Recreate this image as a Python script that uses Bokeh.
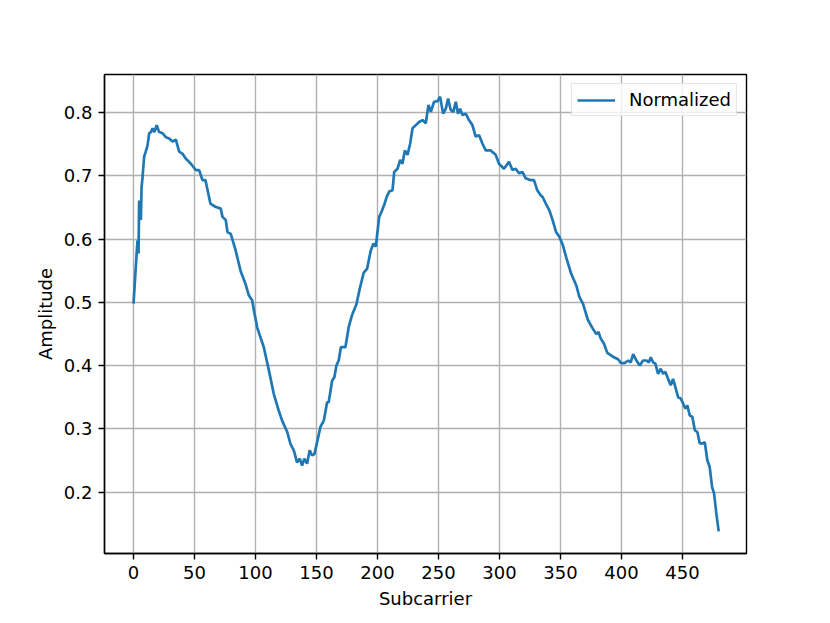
from bokeh.plotting import figure
from bokeh.models import Range1d, FixedTicker
from bokeh.embed import file_html
from bokeh.resources import INLINE

subcarrier = [
    0, 2.7, 3.3, 4.1, 4.6, 6.0, 6.6, 7.4, 8.7, 10, 11.5, 12.8, 14.2, 15.6, 17, 19, 21, 23.8,
    26.5, 29.2, 32, 34.7, 37.4, 40, 42.9, 47, 51, 53.8, 56.5, 59, 63, 67, 71.5, 72.9, 75.6,
    77, 79.7, 83.7, 87.7, 91.8, 94.5, 97.3, 99, 101.4, 104, 106.8, 111, 115, 119, 121.8,
    126, 128.7, 131.4, 134, 136.3, 138.2, 140, 142.3, 144.4, 146.4, 148.3, 150.5, 153.2,
    156, 158.7, 160, 162.8, 164.7, 166.3, 168.2, 170, 173.7, 176.4, 179, 182.7, 185.4,
    188.7, 191.5, 192.8, 194.5, 196.7, 198.6, 201.4, 203.3, 205.5, 207.6, 209.6, 212.3,
    213.7, 216.4, 218.6, 220.5, 222.4, 224.6, 226.8, 228.7, 231.4, 234.1, 236.9, 239.6,
    241.8, 243.7, 246.4, 249.2, 251.3, 253.8, 256, 257.9, 260, 262.2, 264.2, 266, 267.7,
    269.6, 272.3, 275, 277.8, 280.5, 283.3, 286, 288.7, 292.8, 296.9, 299.6, 303.7, 307.8,
    310.6, 313.3, 316, 318.8, 321.5, 325.6, 328.3, 331, 333.8, 335.5, 338.2, 341, 343.7,
    346.4, 349.2, 352, 354.7, 358.8, 362.9, 365.6, 368.4, 372.5, 376.6, 379.3, 381.2,
    382.9, 385.6, 388.4, 393, 397.2, 399.7, 402.7, 405.5, 407.6, 409.6, 412.3, 415, 417.7,
    420.5, 422.4, 424, 426, 427.8, 430, 432.2, 434.1, 436, 438.2, 440.4, 442.3, 444.2,
    446.4, 448.6, 450.5, 452.4, 454, 456, 458.1, 460.1, 462.2, 464.2, 466.9, 468.3, 470.4,
    472.3, 474.3, 475.9, 477.8, 479.7,
]
amplitude = [
    0.498, 0.582, 0.598, 0.577, 0.661, 0.630, 0.682, 0.698, 0.730, 0.738, 0.748, 0.767,
    0.769, 0.775, 0.769, 0.780, 0.769, 0.767, 0.761, 0.759, 0.754, 0.757, 0.738, 0.735,
    0.727, 0.719, 0.709, 0.709, 0.693, 0.693, 0.656, 0.651, 0.648, 0.635, 0.630, 0.611,
    0.608, 0.582, 0.550, 0.529, 0.511, 0.503, 0.484, 0.460, 0.445, 0.429, 0.392, 0.355,
    0.329, 0.313, 0.295, 0.276, 0.266, 0.247, 0.253, 0.242, 0.253, 0.245, 0.266, 0.258,
    0.260, 0.279, 0.303, 0.313, 0.342, 0.342, 0.376, 0.382, 0.400, 0.408, 0.429, 0.429,
    0.461, 0.479, 0.497, 0.521, 0.547, 0.553, 0.566, 0.582, 0.593, 0.588, 0.635, 0.643,
    0.654, 0.667, 0.675, 0.677, 0.706, 0.711, 0.725, 0.719, 0.740, 0.733, 0.751, 0.775,
    0.780, 0.785, 0.788, 0.783, 0.812, 0.801, 0.817, 0.818, 0.825, 0.798, 0.806, 0.822,
    0.804, 0.801, 0.817, 0.798, 0.806, 0.796, 0.798, 0.788, 0.780, 0.762, 0.764, 0.751,
    0.740, 0.740, 0.733, 0.719, 0.711, 0.722, 0.709, 0.711, 0.704, 0.706, 0.696, 0.693,
    0.693, 0.677, 0.669, 0.666, 0.655, 0.645, 0.629, 0.611, 0.603, 0.590, 0.571, 0.545,
    0.527, 0.508, 0.498, 0.472, 0.458, 0.450, 0.453, 0.443, 0.435, 0.420, 0.414, 0.410,
    0.404, 0.404, 0.408, 0.405, 0.418, 0.408, 0.400, 0.408, 0.408, 0.405, 0.413, 0.405,
    0.403, 0.387, 0.395, 0.387, 0.390, 0.379, 0.369, 0.379, 0.366, 0.350, 0.348, 0.340,
    0.332, 0.337, 0.321, 0.319, 0.298, 0.295, 0.277, 0.277, 0.279, 0.250, 0.240, 0.208,
    0.198, 0.166, 0.138,
]

x_ticks = [0, 50, 100, 150, 200, 250, 300, 350, 400, 450]
y_ticks = [0.2, 0.3, 0.4, 0.5, 0.6, 0.7, 0.8]

FONT = "DejaVu Sans"
FS = "18px"

p = figure(
    frame_width=642, frame_height=479,
    min_border_left=104, min_border_right=76, min_border_top=74, min_border_bottom=62,
    output_backend="svg", toolbar_location=None,
    x_range=Range1d(-23.8, 502.5), y_range=Range1d(0.103, 0.86),
    background_fill_color="white", border_fill_color="white",
)
p.outline_line_color = "black"
p.outline_line_width = 1.4

p.line(subcarrier, amplitude, line_color="#1f77b4", line_width=2.7, legend_label="Normalized")

for ax in (p.xaxis, p.yaxis):
    ax.axis_line_color = "black"
    ax.axis_line_width = 1.4
    ax.major_tick_in = 0
    ax.major_tick_out = 6
    ax.major_tick_line_width = 1.4
    ax.minor_tick_line_color = None
    ax.major_label_text_font = FONT
    ax.major_label_text_font_size = FS
    ax.major_label_text_color = "black"
    ax.axis_label_text_font = FONT
    ax.axis_label_text_font_size = FS
    ax.axis_label_text_font_style = "normal"
    ax.axis_label_text_color = "black"
    ax.major_label_standoff = 6

p.xaxis.ticker = FixedTicker(ticks=x_ticks)
p.yaxis.ticker = FixedTicker(ticks=y_ticks)
p.xaxis.axis_label = "Subcarrier"
p.yaxis.axis_label = "Amplitude"
p.xaxis.axis_label_standoff = 6
p.yaxis.axis_label_standoff = 5

p.grid.grid_line_color = "#b0b0b0"
p.grid.grid_line_width = 1.4

lg = p.legend[0]
lg.location = "top_right"
lg.margin = 9
lg.padding = 5
lg.spacing = 0
lg.glyph_width = 38
lg.label_standoff = 14
lg.label_text_font = FONT
lg.label_text_font_size = FS
lg.label_text_color = "black"
lg.border_line_color = "#cccccc"
lg.border_line_width = 1.4
lg.background_fill_alpha = 0.8

open("out.html", "w").write(file_html(p, INLINE))
